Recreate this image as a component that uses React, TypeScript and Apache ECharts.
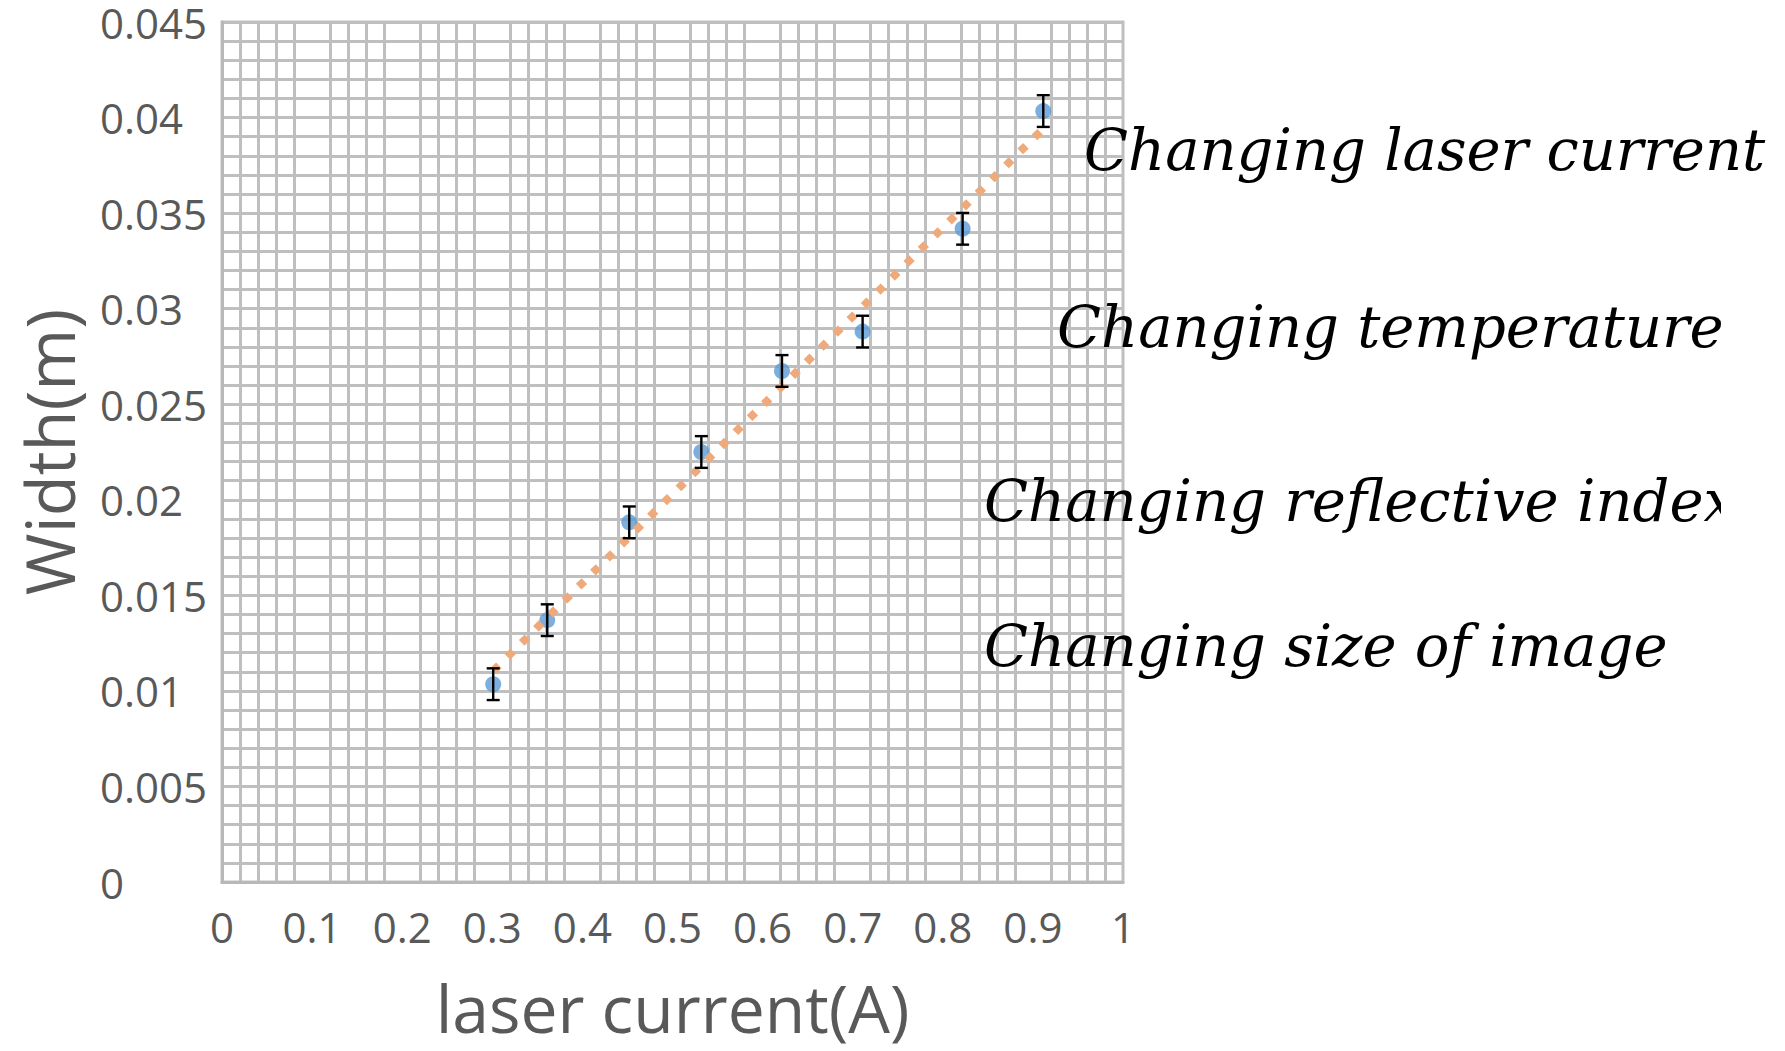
import React, { useEffect, useRef } from "react";
import * as echarts from "echarts";

// ---- data ----
const laserCurrent = [0.301, 0.361, 0.452, 0.532, 0.6215, 0.711, 0.822, 0.9115];
const widthValues = [0.01035, 0.0137, 0.01882, 0.0225, 0.02674, 0.0288, 0.03418, 0.04034];
const widthErrors = [0.00083, 0.00083, 0.00083, 0.00083, 0.00083, 0.00083, 0.00083, 0.00083];
const annotations = [
  "Changing laser current",
  "Changing temperature",
  "Changing reflective index",
  "Changing size of image",
];
const xAxisTitle = "laser current(A)";
const yAxisTitle = "Width(m)";

// linear least-squares trendline (as the spreadsheet trendline does)
function linearFit(xs: number[], ys: number[]) {
  const n = xs.length;
  const mx = xs.reduce((a, b) => a + b, 0) / n;
  const my = ys.reduce((a, b) => a + b, 0) / n;
  let sxy = 0;
  let sxx = 0;
  for (let i = 0; i < n; i++) {
    sxy += (xs[i] - mx) * (ys[i] - my);
    sxx += (xs[i] - mx) * (xs[i] - mx);
  }
  const slope = sxy / sxx;
  return { slope, intercept: my - slope * mx };
}

export default function App() {
  const ref = useRef<HTMLDivElement>(null);

  useEffect(() => {
    if (!ref.current) return;
    const chart = echarts.init(ref.current, undefined, { renderer: "svg" });

    const fit = linearFit(laserCurrent, widthValues);
    const x0 = Math.min(...laserCurrent);
    const x1 = Math.max(...laserCurrent);
    const trendData = [
      [x0, fit.intercept + fit.slope * x0],
      [x1, fit.intercept + fit.slope * x1],
    ];
    const scatterData = laserCurrent.map((x, i) => [x, widthValues[i]]);
    const errorData = laserCurrent.map((x, i) => [
      x,
      widthValues[i] - widthErrors[i],
      widthValues[i] + widthErrors[i],
    ]);

    const gridLine = { color: "#bfbfbf", width: 3 };
    const labelFont = {
      fontFamily: "Open Sans",
      fontSize: 42,
      color: "#595959",
    };

    const textFont = 'italic 57.6px "DejaVu Serif"';
    const annotationPos = [
      [1084, 155],
      [1057, 332],
      [984, 506],
      [984, 651],
    ];

    chart.setOption({
      animation: false,
      backgroundColor: "#ffffff",
      grid: {
        left: 222,
        right: 662,
        top: 22,
        bottom: 169,
        show: true,
        borderColor: "#bfbfbf",
        borderWidth: 3,
        containLabel: false,
      },
      xAxis: {
        type: "value",
        min: 0,
        max: 1,
        interval: 0.1,
        name: xAxisTitle,
        nameLocation: "middle",
        nameGap: 92,
        nameTextStyle: {
          fontFamily: "Open Sans",
          fontSize: 66,
          color: "#595959",
        },
        axisLine: { show: true, lineStyle: { color: "#b8b8b8", width: 3 } },
        axisTick: { show: false },
        axisLabel: { ...labelFont, margin: 23 },
        splitLine: { show: false },
        minorTick: { show: false, splitNumber: 5 },
        minorSplitLine: { show: true, lineStyle: gridLine },
      },
      yAxis: {
        type: "value",
        min: 0,
        max: 0.045,
        interval: 0.005,
        name: yAxisTitle,
        nameLocation: "middle",
        nameGap: 140,
        nameRotate: 90,
        nameTextStyle: {
          fontFamily: "Open Sans",
          fontSize: 67,
          lineHeight: 67,
          color: "#595959",
        },
        axisLine: { show: true, lineStyle: { color: "#b8b8b8", width: 3 } },
        axisTick: { show: false },
        axisLabel: {
          ...labelFont,
          align: "left",
          margin: 122,
          lineHeight: 28,
          padding: [14, 0, 0, 0],
          formatter: (v: number) => String(parseFloat(v.toFixed(3))),
        },
        splitLine: { show: true, lineStyle: gridLine },
        minorTick: { show: false, splitNumber: 5 },
        minorSplitLine: { show: true, lineStyle: gridLine },
      },
      series: [
        {
          type: "scatter",
          data: scatterData,
          symbol: "circle",
          symbolSize: 16,
          itemStyle: { color: "#5B9BD5" },
          z: 3,
        },
        {
          type: "line",
          data: trendData,
          symbol: "none",
          lineStyle: {
            color: "#EFAA7C",
            width: 8,
            type: [8, 12],
            cap: "butt",
          },
          z: 4,
        },
        {
          type: "custom",
          data: errorData,
          z: 5,
          renderItem: (params: any, api: any) => {
            const x = api.value(0);
            const top = api.coord([x, api.value(2)]);
            const bottom = api.coord([x, api.value(1)]);
            const half = 6.5;
            const style = { stroke: "#000000", lineWidth: 2.4 };
            return {
              type: "group",
              children: [
                {
                  type: "line",
                  shape: { x1: top[0], y1: top[1], x2: bottom[0], y2: bottom[1] },
                  style,
                },
                {
                  type: "line",
                  shape: { x1: top[0] - half, y1: top[1], x2: top[0] + half, y2: top[1] },
                  style,
                },
                {
                  type: "line",
                  shape: {
                    x1: bottom[0] - half,
                    y1: bottom[1],
                    x2: bottom[0] + half,
                    y2: bottom[1],
                  },
                  style,
                },
              ],
            };
          },
        },
      ],
      graphic: [
        ...annotations.map((t, i) => ({
          type: "text",
          left: annotationPos[i][0],
          top: annotationPos[i][1] - 34,
          z: 10,
          style: {
            text: t,
            font: textFont,
            fill: "#000000",
          },
        })),
        {
          type: "rect",
          shape: { x: 1721, y: 455, width: 64, height: 95 },
          style: { fill: "#ffffff" },
          z: 11,
        },
      ],
    });

    return () => {
      chart.dispose();
    };
  }, []);

  return (
    <div
      ref={ref}
      style={{ position: "fixed", left: 0, top: 0, width: 1785, height: 1051 }}
    />
  );
}
